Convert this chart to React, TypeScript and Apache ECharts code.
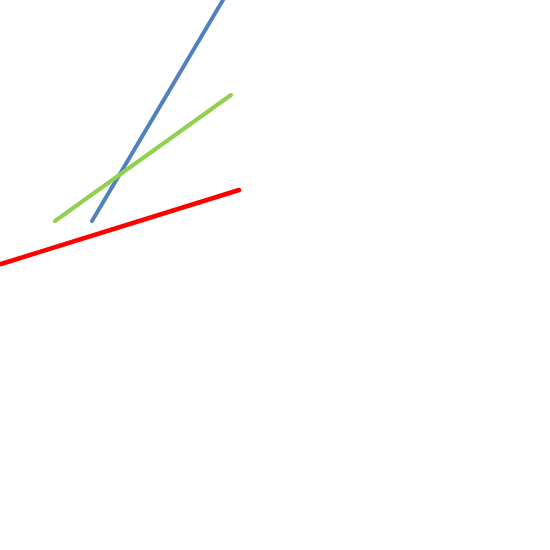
import {useEffect, useRef} from 'react';
import * as echarts from 'echarts';

// Plane of the drawing, in units matching the 550px page (y counts up from the bottom).
const planeMin = 0;
const planeMax = 550;

const blueLine = [[92, 329], [223, 550]];
const greenLine = [[55, 329], [231, 455]];
const redLine = [[1, 286], [239, 360]];

export default function App() {
    const chartRef = useRef<HTMLDivElement | null>(null);

    useEffect(() => {
        const el = chartRef.current;
        if (!el) return;
        const chart = echarts.init(el, null, {renderer: 'svg'});
        chart.setOption({
            animation: false,
            grid: {left: 0, right: 0, top: 0, bottom: 0},
            xAxis: {type: 'value', min: planeMin, max: planeMax, show: false},
            yAxis: {type: 'value', min: planeMin, max: planeMax, show: false},
            series: [
                {
                    type: 'line', data: blueLine, symbol: 'none', clip: true,
                    lineStyle: {color: '#4f81bd', width: 4, cap: 'round'},
                },
                {
                    type: 'line', data: greenLine, symbol: 'none', clip: true,
                    lineStyle: {color: '#92d050', width: 4, cap: 'round'},
                },
                {
                    type: 'line', data: redLine, symbol: 'none', clip: true,
                    lineStyle: {color: '#ff0000', width: 4.5, cap: 'round'},
                },
            ],
        });
        return () => chart.dispose();
    }, []);

    return (
        <div
            ref={chartRef}
            style={{position: 'absolute', left: 0, top: 0, width: '550px', height: '550px', background: '#fff'}}
        />
    );
}
